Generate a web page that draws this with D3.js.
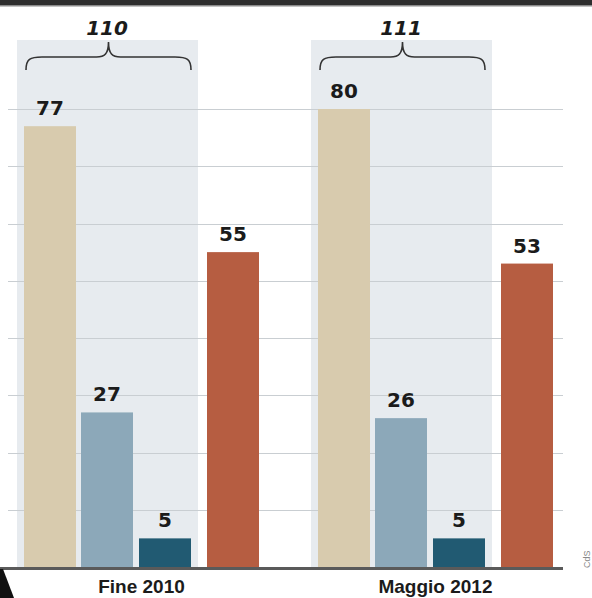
<!DOCTYPE html>
<html>
<head>
<meta charset="utf-8">
<script src="https://cdn.jsdelivr.net/npm/d3@7"></script>
<style>
  body { margin: 0; background: #fff; }
  svg { display: block; }
  .num { font-family: "DejaVu Sans", sans-serif; font-weight: bold; fill: #1b1b1b; }
  .cat { font-family: "Liberation Sans", Arial, sans-serif; font-weight: bold; fill: #1b1b1b; }
</style>
</head>
<body>
<div id="chart"></div>
<script>
// data
var categories = ["Fine 2010", "Maggio 2012"];
var seriesKeys = ["tan", "lightBlue", "darkTeal", "red"];
var tanValues = [77, 80];
var lightBlueValues = [27, 26];
var darkTealValues = [5, 5];
var redValues = [55, 53];
var braceTotals = [110, 111];
var gridTicks = [10, 20, 30, 40, 50, 60, 70, 80];

var colors = { tan: "#d8cbae", lightBlue: "#8ca8b9", darkTeal: "#215a72", red: "#b65d41" };

var width = 592, height = 598;
var baseY = 567;

var svg = d3.select("#chart").append("svg")
  .attr("width", width)
  .attr("height", height);

var rows = categories.map(function (c, i) {
  return { cat: c, tan: tanValues[i], lightBlue: lightBlueValues[i],
           darkTeal: darkTealValues[i], red: redValues[i], total: braceTotals[i] };
});

// scales
var y = d3.scaleLinear().domain([0, 80]).range([baseY, 109]);
var x0 = d3.scaleBand().domain(categories).range([17, 17 + 2 * 294]);
// inner offset of each bar inside a group (red bar sits apart)
var xi = d3.scaleOrdinal().domain(seriesKeys).range([7, 64, 122, 190]);
var barW = 52;

// top rule
svg.append("rect").attr("x", 0).attr("y", 0).attr("width", width).attr("height", 5).attr("fill", "#2e2e2e");
svg.append("rect").attr("x", 0).attr("y", 5).attr("width", width).attr("height", 1.5).attr("fill", "#8a8a8a");

// shaded panels behind first three bars
svg.selectAll("rect.panel")
  .data(rows)
  .enter()
  .append("rect")
  .attr("class", "panel")
  .attr("x", function (d) { return x0(d.cat); })
  .attr("y", 40)
  .attr("width", 181)
  .attr("height", baseY - 40)
  .attr("fill", "#e7ebef");

// gridlines
svg.append("g")
  .selectAll("line")
  .data(gridTicks)
  .enter()
  .append("line")
  .attr("x1", 8)
  .attr("x2", 563)
  .attr("y1", function (d) { return Math.round(y(d)) + 0.5; })
  .attr("y2", function (d) { return Math.round(y(d)) + 0.5; })
  .attr("stroke", "#c9ced2")
  .attr("stroke-width", 1);

// bars
var groups = svg.selectAll("g.group")
  .data(rows)
  .enter()
  .append("g")
  .attr("class", "group")
  .attr("transform", function (d) { return "translate(" + x0(d.cat) + ",0)"; });

groups.selectAll("rect.bar")
  .data(function (d) { return seriesKeys.map(function (k) { return { key: k, value: d[k] }; }); })
  .enter()
  .append("rect")
  .attr("class", "bar")
  .attr("x", function (d) { return xi(d.key); })
  .attr("y", function (d) { return y(d.value); })
  .attr("width", barW)
  .attr("height", function (d) { return baseY - y(d.value); })
  .attr("fill", function (d) { return colors[d.key]; });

groups.selectAll("text.val")
  .data(function (d) { return seriesKeys.map(function (k) { return { key: k, value: d[k] }; }); })
  .enter()
  .append("text")
  .attr("class", "num")
  .attr("x", function (d) { return xi(d.key) + barW / 2; })
  .attr("y", function (d) { return y(d.value) - 11; })
  .attr("text-anchor", "middle")
  .style("font-size", "20px")
  .text(function (d) { return d.value; });

// braces with totals
function bracePath(x1, x2, top, bottom) {
  var mid = (x1 + x2) / 2, m = (top + bottom) / 2 + 1;
  return "M" + x1 + "," + bottom +
    " C" + x1 + "," + (m + 2) + " " + (x1 + 4) + "," + m + " " + (x1 + 16) + "," + m +
    " L" + (mid - 12) + "," + m +
    " C" + (mid - 4) + "," + m + " " + mid + "," + (m - 3) + " " + mid + "," + top +
    " C" + mid + "," + (m - 3) + " " + (mid + 4) + "," + m + " " + (mid + 12) + "," + m +
    " L" + (x2 - 16) + "," + m +
    " C" + (x2 - 4) + "," + m + " " + x2 + "," + (m + 2) + " " + x2 + "," + bottom;
}

groups.append("path")
  .attr("d", bracePath(9, 174, 42, 70))
  .attr("fill", "none")
  .attr("stroke", "#333")
  .attr("stroke-width", 1.6);

groups.append("text")
  .attr("class", "num")
  .attr("x", 90)
  .attr("y", 35)
  .attr("text-anchor", "middle")
  .style("font-size", "20px")
  .style("font-style", "italic")
  .text(function (d) { return d.total; });

// baseline
svg.append("line")
  .attr("x1", 0).attr("x2", 563)
  .attr("y1", baseY + 1.5).attr("y2", baseY + 1.5)
  .attr("stroke", "#5a5a5a")
  .attr("stroke-width", 3);

// category labels
groups.append("text")
  .attr("class", "cat")
  .attr("x", (xi("tan") + xi("red") + barW) / 2)
  .attr("y", 593)
  .attr("text-anchor", "middle")
  .style("font-size", "19px")
  .text(function (d) { return d.cat; });

// bits cut off at the edges of the clipping
svg.append("path")
  .attr("d", "M0,569 L3,569 L14,598 L0,598 Z")
  .attr("fill", "#111");
svg.append("text")
  .attr("transform", "translate(590,568) rotate(-90)")
  .attr("fill", "#888")
  .style("font-family", "Liberation Sans, sans-serif")
  .style("font-size", "9px")
  .text("CdS");
</script>
</body>
</html>
